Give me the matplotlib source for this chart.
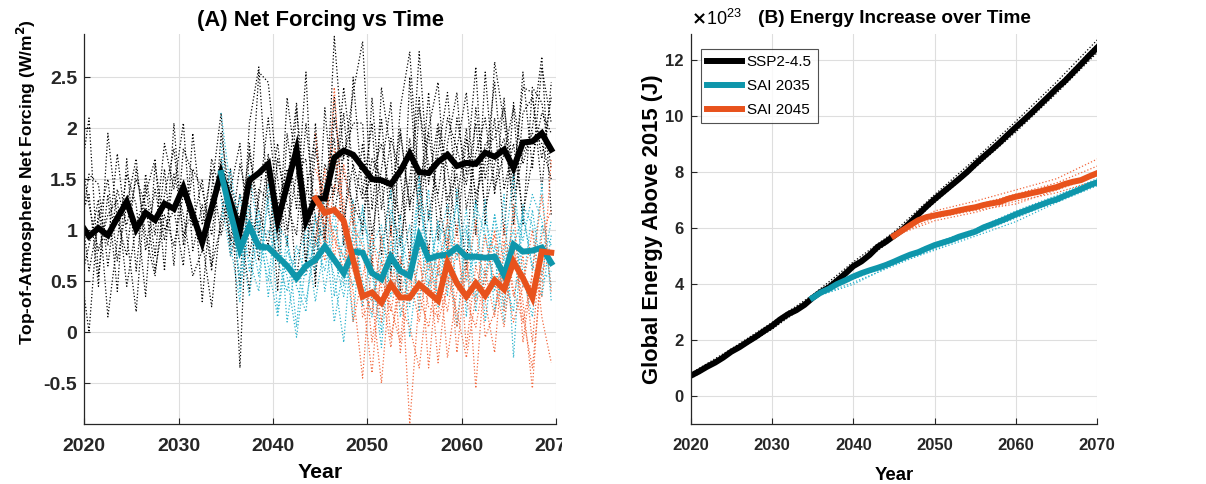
import numpy as np
import matplotlib.pyplot as plt
from matplotlib.transforms import Bbox, TransformedBbox

plt.rcParams.update({
    'font.family': ['Liberation Sans', 'DejaVu Sans'],
    'font.weight': 'bold',
    'axes.labelweight': 'bold',
    'axes.titleweight': 'bold',
    'font.size': 14,
})

BLACK = '#000000'
TEAL = '#0E96AB'
ORANGE = '#E8521C'
TEAL_DOT = '#2AB2CC'
ORANGE_DOT = '#F2683E'
GRID = '#DEDEDE'

# ---- panel A: net forcing (W/m2), annual means plotted at mid-year ----
years_ssp = np.arange(2019.5, 2070.0, 1.0)
years_sai35 = np.arange(2034.5, 2070.0, 1.0)
years_sai45 = np.arange(2044.5, 2070.0, 1.0)

forcing_ssp = [1.08, 0.94, 1.02, 0.95, 1.12, 1.28, 1.01, 1.17, 1.10, 1.26,
               1.21, 1.42, 1.15, 0.88, 1.22, 1.56, 1.28, 1.00, 1.49, 1.56,
               1.65, 1.09, 1.44, 1.79, 1.09, 1.31, 1.31, 1.71, 1.78, 1.74,
               1.62, 1.50, 1.49, 1.45, 1.58, 1.75, 1.57, 1.56, 1.67, 1.74,
               1.63, 1.66, 1.65, 1.76, 1.72, 1.79, 1.61, 1.86, 1.87, 1.95,
               1.79]
forcing_sai35 = [1.56, 1.17, 0.81, 1.04, 0.84, 0.83, 0.74, 0.65, 0.53, 0.65,
                 0.71, 0.84, 0.71, 0.58, 0.79, 0.78, 0.58, 0.52, 0.74, 0.60,
                 0.55, 0.94, 0.72, 0.75, 0.76, 0.83, 0.74, 0.74, 0.73, 0.74,
                 0.56, 0.86, 0.79, 0.80, 0.83, 0.68]
forcing_sai45 = [1.31, 1.17, 1.20, 1.09, 0.71, 0.35, 0.39, 0.29, 0.47, 0.34,
                 0.34, 0.47, 0.39, 0.31, 0.68, 0.48, 0.35, 0.48, 0.36, 0.51,
                 0.42, 0.69, 0.53, 0.34, 0.79, 0.78]

# individual ensemble members
ens_ssp = [
    [1.45, 2.10, 0.55, 1.35, 0.40, 1.70, 0.60, 1.55, 0.95, 1.85,
     1.40, 2.05, 0.80, 1.25, 0.60, 1.95, 1.30, 0.45, 2.05, 2.60,
     1.20, 0.70, 2.30, 1.60, 0.65, 2.05, 0.90, 2.90, 1.70, 2.35,
     2.85, 1.20, 2.10, 0.95, 2.20, 2.75, 1.35, 2.00, 2.45, 1.10,
     2.10, 1.55, 2.60, 1.05, 2.65, 2.05, 1.40, 2.55, 1.60, 2.60, 2.05],
    [0.70, 0.00, 1.20, 0.85, 1.75, 0.95, 0.20, 1.45, 0.75, 1.60,
     0.65, 1.80, 1.55, 0.30, 1.40, 2.15, 0.85, 1.35, 1.05, 2.55,
     2.45, 1.50, 0.85, 2.20, 1.25, 0.90, 1.65, 1.35, 2.15, 1.05,
     1.85, 0.95, 1.60, 2.25, 0.85, 1.50, 2.30, 1.10, 1.75, 2.35,
     1.25, 2.00, 0.95, 2.55, 1.40, 1.75, 2.20, 1.05, 2.40, 2.25, 1.60],
    [1.10, 1.35, 0.45, 1.95, 1.10, 0.75, 1.60, 0.95, 0.55, 1.35,
     1.80, 0.95, 1.20, 0.90, 0.25, 1.15, 1.60, -0.35, 1.85, 0.95,
     1.75, 0.40, 1.95, 1.20, 2.55, 0.55, 1.45, 1.90, 0.85, 2.50,
     1.35, 2.05, 0.75, 1.45, 1.10, 1.90, 1.20, 2.35, 0.90, 1.85,
     2.35, 1.20, 1.75, 2.10, 1.35, 2.30, 1.05, 2.15, 2.30, 1.70, 2.30],
    [0.45, 0.85, 1.30, 0.15, 0.90, 1.55, 1.25, 0.35, 1.65, 1.00,
     1.20, 0.65, 1.95, 1.05, 1.60, 0.95, 1.40, 1.85, 0.75, 1.30,
     2.10, 1.25, 1.60, 0.50, 1.35, 1.95, 0.85, 2.10, 1.55, 1.25,
     1.05, 1.70, 1.50, 0.55, 1.95, 1.25, 1.55, 0.75, 2.00, 1.30,
     1.55, 0.60, 2.20, 1.50, 2.10, 0.95, 2.25, 1.65, 2.00, 2.70, 1.15],
    [1.35, 0.60, 1.10, 1.50, 0.70, 1.25, 1.70, 0.80, 1.40, 0.90,
     1.55, 1.15, 0.55, 0.80, 1.70, 1.35, 0.90, 1.65, 1.20, 0.70,
     1.60, 0.90, 1.45, 2.25, 0.60, 1.80, 1.20, 1.40, 2.40, 1.60,
     0.95, 2.30, 1.20, 1.90, 1.55, 0.70, 2.20, 1.65, 1.35, 2.10,
     1.80, 2.35, 1.25, 1.85, 1.90, 2.20, 1.50, 2.40, 2.35, 1.40, 2.45],
    [1.80, 1.25, 0.80, 1.15, 1.30, 0.45, 1.05, 1.35, 1.70, 0.60,
     2.05, 0.85, 1.60, 1.40, 0.95, 1.70, 0.75, 1.10, 0.40, 1.40,
     1.30, 1.85, 1.00, 1.55, 1.70, 0.45, 2.20, 1.15, 1.75, 2.05,
     2.05, 0.60, 2.40, 1.75, 0.40, 2.50, 1.05, 1.95, 1.30, 0.80,
     1.80, 1.45, 2.05, 1.20, 1.65, 1.90, 1.30, 1.75, 1.95, 1.85, 1.50],
    [0.90, 1.55, 1.45, 0.65, 1.40, 1.05, 1.50, 1.25, 0.60, 1.15,
     0.85, 1.35, 1.05, 1.50, 0.65, 1.05, 1.45, 1.10, 1.75, 1.20,
     0.85, 1.70, 1.25, 0.95, 2.05, 1.10, 0.90, 2.30, 1.10, 1.65,
     1.30, 1.55, 1.85, 1.30, 2.00, 1.20, 2.75, 1.45, 2.05, 1.60,
     0.95, 1.90, 1.35, 1.65, 2.45, 1.40, 1.85, 1.15, 1.70, 2.15, 1.95],
]
ens_sai35 = [
    [2.15, 1.40, 0.40, 1.05, 0.55, 1.30, 0.20, 0.95, 0.05, 1.10,
     0.60, 1.45, 0.35, 0.95, 0.10, 1.25, 0.65, 0.00, 1.20, 0.85,
     0.25, 1.55, 0.45, 1.10, 0.35, 1.40, 0.15, 1.25, 0.95, 0.40,
     1.35, -0.25, 1.20, 0.60, 1.45, 0.30],
    [1.30, 0.75, 1.35, 0.60, 1.20, 0.35, 1.05, 0.90, 0.45, 0.20,
     1.15, 0.40, 1.05, 0.70, 1.30, 0.25, 0.85, 1.05, 0.35, 0.65,
     1.05, 0.20, 1.20, 0.55, 1.05, 0.70, 1.20, 0.35, 0.50, 1.15,
     0.70, 1.00, 0.45, 1.20, 0.55, 1.10],
    [1.75, 0.85, 0.30, 1.55, 0.95, 0.50, 1.25, 0.10, 0.75, 0.95,
     0.30, 0.90, 0.55, -0.10, 1.05, 0.50, 0.15, 0.95, 0.60, 1.15,
     -0.05, 0.80, 1.40, 0.25, 0.85, 0.05, 1.00, 0.65, 1.30, 0.20,
     0.75, 1.55, 0.55, 0.15, 1.05, 0.85],
    [1.10, 1.60, 0.95, 0.35, 1.10, 0.65, 0.15, 0.80, 0.60, 0.30,
     0.85, 1.05, 0.10, 0.65, 0.45, 0.95, 0.30, 0.70, 1.40, 0.15,
     0.60, 1.25, 0.80, 0.30, 1.10, 0.45, 0.65, 1.30, 0.10, 0.85,
     0.55, 0.20, 1.25, 1.05, 0.35, 0.95],
    [1.50, 1.20, 0.55, 1.25, 0.75, 1.00, 0.70, 0.40, 0.85, 0.55,
     0.90, 0.60, 1.20, 0.45, 0.95, 1.20, 0.60, -0.15, 0.90, 0.35,
     0.70, 1.45, 0.60, 1.05, 0.90, 1.25, 0.50, 0.80, 0.55, 1.15,
     0.25, 1.25, 0.90, 1.35, 1.10, 0.45],
    [1.85, 1.05, 0.95, 0.70, 0.40, 1.45, 0.85, 0.55, -0.05, 0.70,
     1.10, 0.85, 0.75, 0.35, 0.85, 1.05, 0.90, 0.70, 0.45, 0.95,
     0.60, 1.00, 0.35, 0.85, 1.25, 0.75, 1.05, 0.20, 1.10, 0.75,
     0.10, 0.85, 1.15, 0.65, 0.50, 0.60],
]
ens_sai45 = [
    [1.95, 0.85, 2.40, 0.95, 0.40, -0.45, 0.75, 0.10, 1.05, -0.20,
     0.50, 0.90, -0.35, 0.65, 1.10, 0.05, 0.80, -0.55, 0.70, 0.95,
     0.20, 1.25, -0.10, 0.60, 1.35, 0.40],
    [0.85, 1.60, 0.70, 1.65, 1.05, 0.85, -0.10, 0.55, 0.20, 0.75,
     -0.90, 0.35, 0.85, 0.10, 0.45, 1.05, -0.15, 0.65, 0.30, -0.20,
     0.90, 0.35, 0.75, -0.10, 0.95, 1.20],
    [1.40, 1.20, 0.95, 0.60, 1.25, 0.15, 0.35, -0.50, 0.60, 0.25,
     0.05, -0.35, 0.45, 0.80, -0.25, 0.40, 0.55, 1.10, -0.05, 0.20,
     0.60, 0.10, 0.45, 1.00, 0.15, -0.30],
    [1.10, 0.70, 1.45, 1.30, 0.10, 0.55, 0.95, 0.45, -0.15, 0.70,
     0.55, 0.10, 0.75, -0.30, 0.55, 0.20, -0.25, 0.35, 0.95, 0.50,
     0.05, 0.85, 0.30, -0.55, 0.80, 0.65],
    [1.60, 1.35, 0.90, 0.75, 0.60, 0.35, -0.40, 0.70, 0.25, -0.10,
     0.80, 0.35, 0.05, 0.65, 0.20, 0.85, 0.30, 0.05, 0.60, 0.15,
     1.05, 0.40, 0.10, 0.55, 0.35, 1.70],
    [1.25, 1.05, 1.80, 1.10, 0.95, 0.40, 0.20, 0.95, -0.05, 0.45,
     0.30, 0.70, 0.25, 0.15, 0.95, -0.20, 0.65, 0.30, 0.45, 1.00,
     0.45, 0.85, 0.15, -0.35, 0.60, 0.75],
]

# ---- panel B: accumulated energy above 2015 (units of 1e23 J) ----
e_years_ssp = np.arange(2020, 2071)
e_years_sai35 = np.arange(2035, 2071)
e_years_sai45 = np.arange(2045, 2071)

energy_ssp = [0.72, 0.87, 1.04, 1.19, 1.37, 1.58, 1.74, 1.93, 2.11, 2.31,
              2.50, 2.73, 2.92, 3.06, 3.25, 3.50, 3.71, 3.87, 4.11, 4.36,
              4.63, 4.80, 5.03, 5.32, 5.50, 5.71, 5.92, 6.19, 6.48, 6.76,
              7.02, 7.26, 7.50, 7.74, 7.99, 8.27, 8.53, 8.78, 9.04, 9.32,
              9.59, 9.85, 10.12, 10.40, 10.68, 10.97, 11.23, 11.53, 11.83, 12.14,
              12.43]
energy_sai35 = [3.50, 3.69, 3.82, 3.99, 4.12, 4.26, 4.38, 4.48, 4.57, 4.67,
                4.79, 4.92, 5.04, 5.13, 5.26, 5.38, 5.47, 5.56, 5.68, 5.77,
                5.86, 6.01, 6.12, 6.23, 6.35, 6.48, 6.59, 6.70, 6.81, 6.92,
                7.01, 7.14, 7.26, 7.38, 7.51, 7.62]
energy_sai45 = [5.71, 5.90, 6.09, 6.27, 6.38, 6.44, 6.50, 6.55, 6.62, 6.68,
                6.73, 6.81, 6.87, 6.92, 7.03, 7.11, 7.17, 7.24, 7.30, 7.38,
                7.45, 7.56, 7.64, 7.70, 7.83, 7.95]

ens_years_ssp = np.arange(2020, 2071, 5)
ens_years_sai35 = np.arange(2035, 2071, 5)
ens_years_sai45 = np.arange(2045, 2071, 5)
ens_energy_ssp = [
    [0.62, 1.50, 2.38, 3.42, 4.55, 5.62, 6.90, 8.15, 9.42, 10.80, 12.25],
    [0.80, 1.68, 2.62, 3.60, 4.78, 5.85, 7.18, 8.45, 9.80, 11.20, 12.70],
    [0.70, 1.55, 2.45, 3.45, 4.62, 5.68, 7.05, 8.30, 9.62, 11.05, 12.55],
    [0.75, 1.62, 2.55, 3.55, 4.68, 5.78, 6.95, 8.20, 9.50, 10.90, 12.30],
]
ens_energy_sai35 = [
    [3.50, 4.05, 4.65, 5.25, 5.78, 6.35, 6.95, 7.55],
    [3.50, 4.30, 4.85, 5.45, 5.95, 6.60, 7.15, 7.75],
    [3.50, 4.18, 4.72, 5.32, 5.80, 6.45, 7.00, 7.62],
    [3.50, 3.98, 4.70, 5.20, 5.70, 6.22, 6.90, 7.50],
]
ens_energy_sai45 = [
    [5.71, 6.60, 6.95, 7.35, 7.75, 8.45],
    [5.71, 6.25, 6.55, 6.95, 7.25, 7.70],
    [5.71, 6.50, 6.80, 7.20, 7.60, 8.20],
    [5.71, 6.35, 6.62, 6.85, 7.35, 7.85],
]


def style_axes(ax, ticksize, labelsize, labelpad):
    ax.grid(True, color=GRID, linewidth=0.8)
    ax.set_axisbelow(True)
    for side in ('top', 'right'):
        ax.spines[side].set_visible(False)
    for side in ('left', 'bottom'):
        ax.spines[side].set_color('#262626')
        ax.spines[side].set_linewidth(0.9)
    ax.tick_params(direction='in', length=4, width=0.8, colors='#262626',
                   labelsize=ticksize)
    ax.tick_params(axis='x', pad=10)
    ax.tick_params(axis='y', pad=5)
    ax.set_xlim(2020, 2070)
    ax.set_xticks(range(2020, 2071, 10))
    ax.set_xlabel('Year', fontsize=labelsize, labelpad=labelpad)


fig = plt.figure(figsize=(12.06, 4.84), dpi=100)
ax1 = fig.add_axes([0.0699, 0.124, 0.3911, 0.805])
ax2 = fig.add_axes([0.5727, 0.124, 0.3371, 0.805])

# panel A
for member in ens_ssp:
    ax1.plot(years_ssp, member, ':', color=BLACK, lw=0.9)
for member in ens_sai35:
    ax1.plot(years_sai35, member, ':', color=TEAL_DOT, lw=0.9)
for member in ens_sai45:
    ax1.plot(years_sai45, member, ':', color=ORANGE_DOT, lw=0.9)
ax1.plot(years_ssp, forcing_ssp, color=BLACK, lw=4.3, solid_joinstyle='miter')
ax1.plot(years_sai35, forcing_sai35, color=TEAL, lw=4.3, solid_joinstyle='miter')
ax1.plot(years_sai45, forcing_sai45, color=ORANGE, lw=4.3, solid_joinstyle='miter')

style_axes(ax1, 14, 15.3, 6)
ax1.set_ylim(-0.9, 2.92)
ax1.set_yticks([-0.5, 0, 0.5, 1, 1.5, 2, 2.5])
ax1.set_yticklabels(['-0.5', '0', '0.5', '1', '1.5', '2', '2.5'])
ax1.set_ylabel('Top-of-Atmosphere Net Forcing (W/m$^\\mathbf{2}$)', fontsize=12.5)
ax1.yaxis.set_label_coords(-0.098, 0.62)
ax1.set_title('(A) Net Forcing vs Time', fontsize=15.8, pad=6)

# panel B
for member in ens_energy_ssp:
    ax2.plot(ens_years_ssp, member, ':', color=BLACK, lw=0.9)
for member in ens_energy_sai35:
    ax2.plot(ens_years_sai35, member, ':', color=TEAL_DOT, lw=0.9)
for member in ens_energy_sai45:
    ax2.plot(ens_years_sai45, member, ':', color=ORANGE_DOT, lw=0.9)
ax2.plot(e_years_ssp, energy_ssp, color=BLACK, lw=4.3, label='SSP2-4.5')
ax2.plot(e_years_sai35, energy_sai35, color=TEAL, lw=4.3, label='SAI 2035')
ax2.plot(e_years_sai45, energy_sai45, color=ORANGE, lw=4.3, label='SAI 2045')

style_axes(ax2, 12, 13.4, 10)
ax2.set_ylim(-1, 12.9)
ax2.set_yticks(range(0, 13, 2))
ax2.set_ylabel('Global Energy Above 2015 (J)', fontsize=15.8)
ax2.yaxis.set_label_coords(-0.067, 0.5)
ax2.set_title('(B) Energy Increase over Time', fontsize=13.7, pad=8)
ax2.text(0.0, 1.015, r'$\times\mathregular{10^{23}}$', transform=ax2.transAxes,
         fontsize=13, fontweight='normal', ha='left', va='bottom')

leg = ax2.legend(loc='upper left', bbox_to_anchor=(0.025, 0.962),
                 prop={'weight': 'normal', 'size': 11}, frameon=True,
                 fancybox=False, edgecolor='#262626', handlelength=2.3,
                 handletextpad=0.3, borderpad=0.4, labelspacing=0.65,
                 borderaxespad=0.0)
leg.get_frame().set_linewidth(0.8)

# the left panel's last year label is cut off at the panel edge
fig.canvas.draw()
clip = TransformedBbox(Bbox([[0, 0], [562 / 1206, 1]]), fig.transFigure)
for lbl in ax1.get_xticklabels():
    lbl.set_clip_box(clip)
    lbl.set_clip_on(True)

fig.savefig('out.png', dpi=100)
